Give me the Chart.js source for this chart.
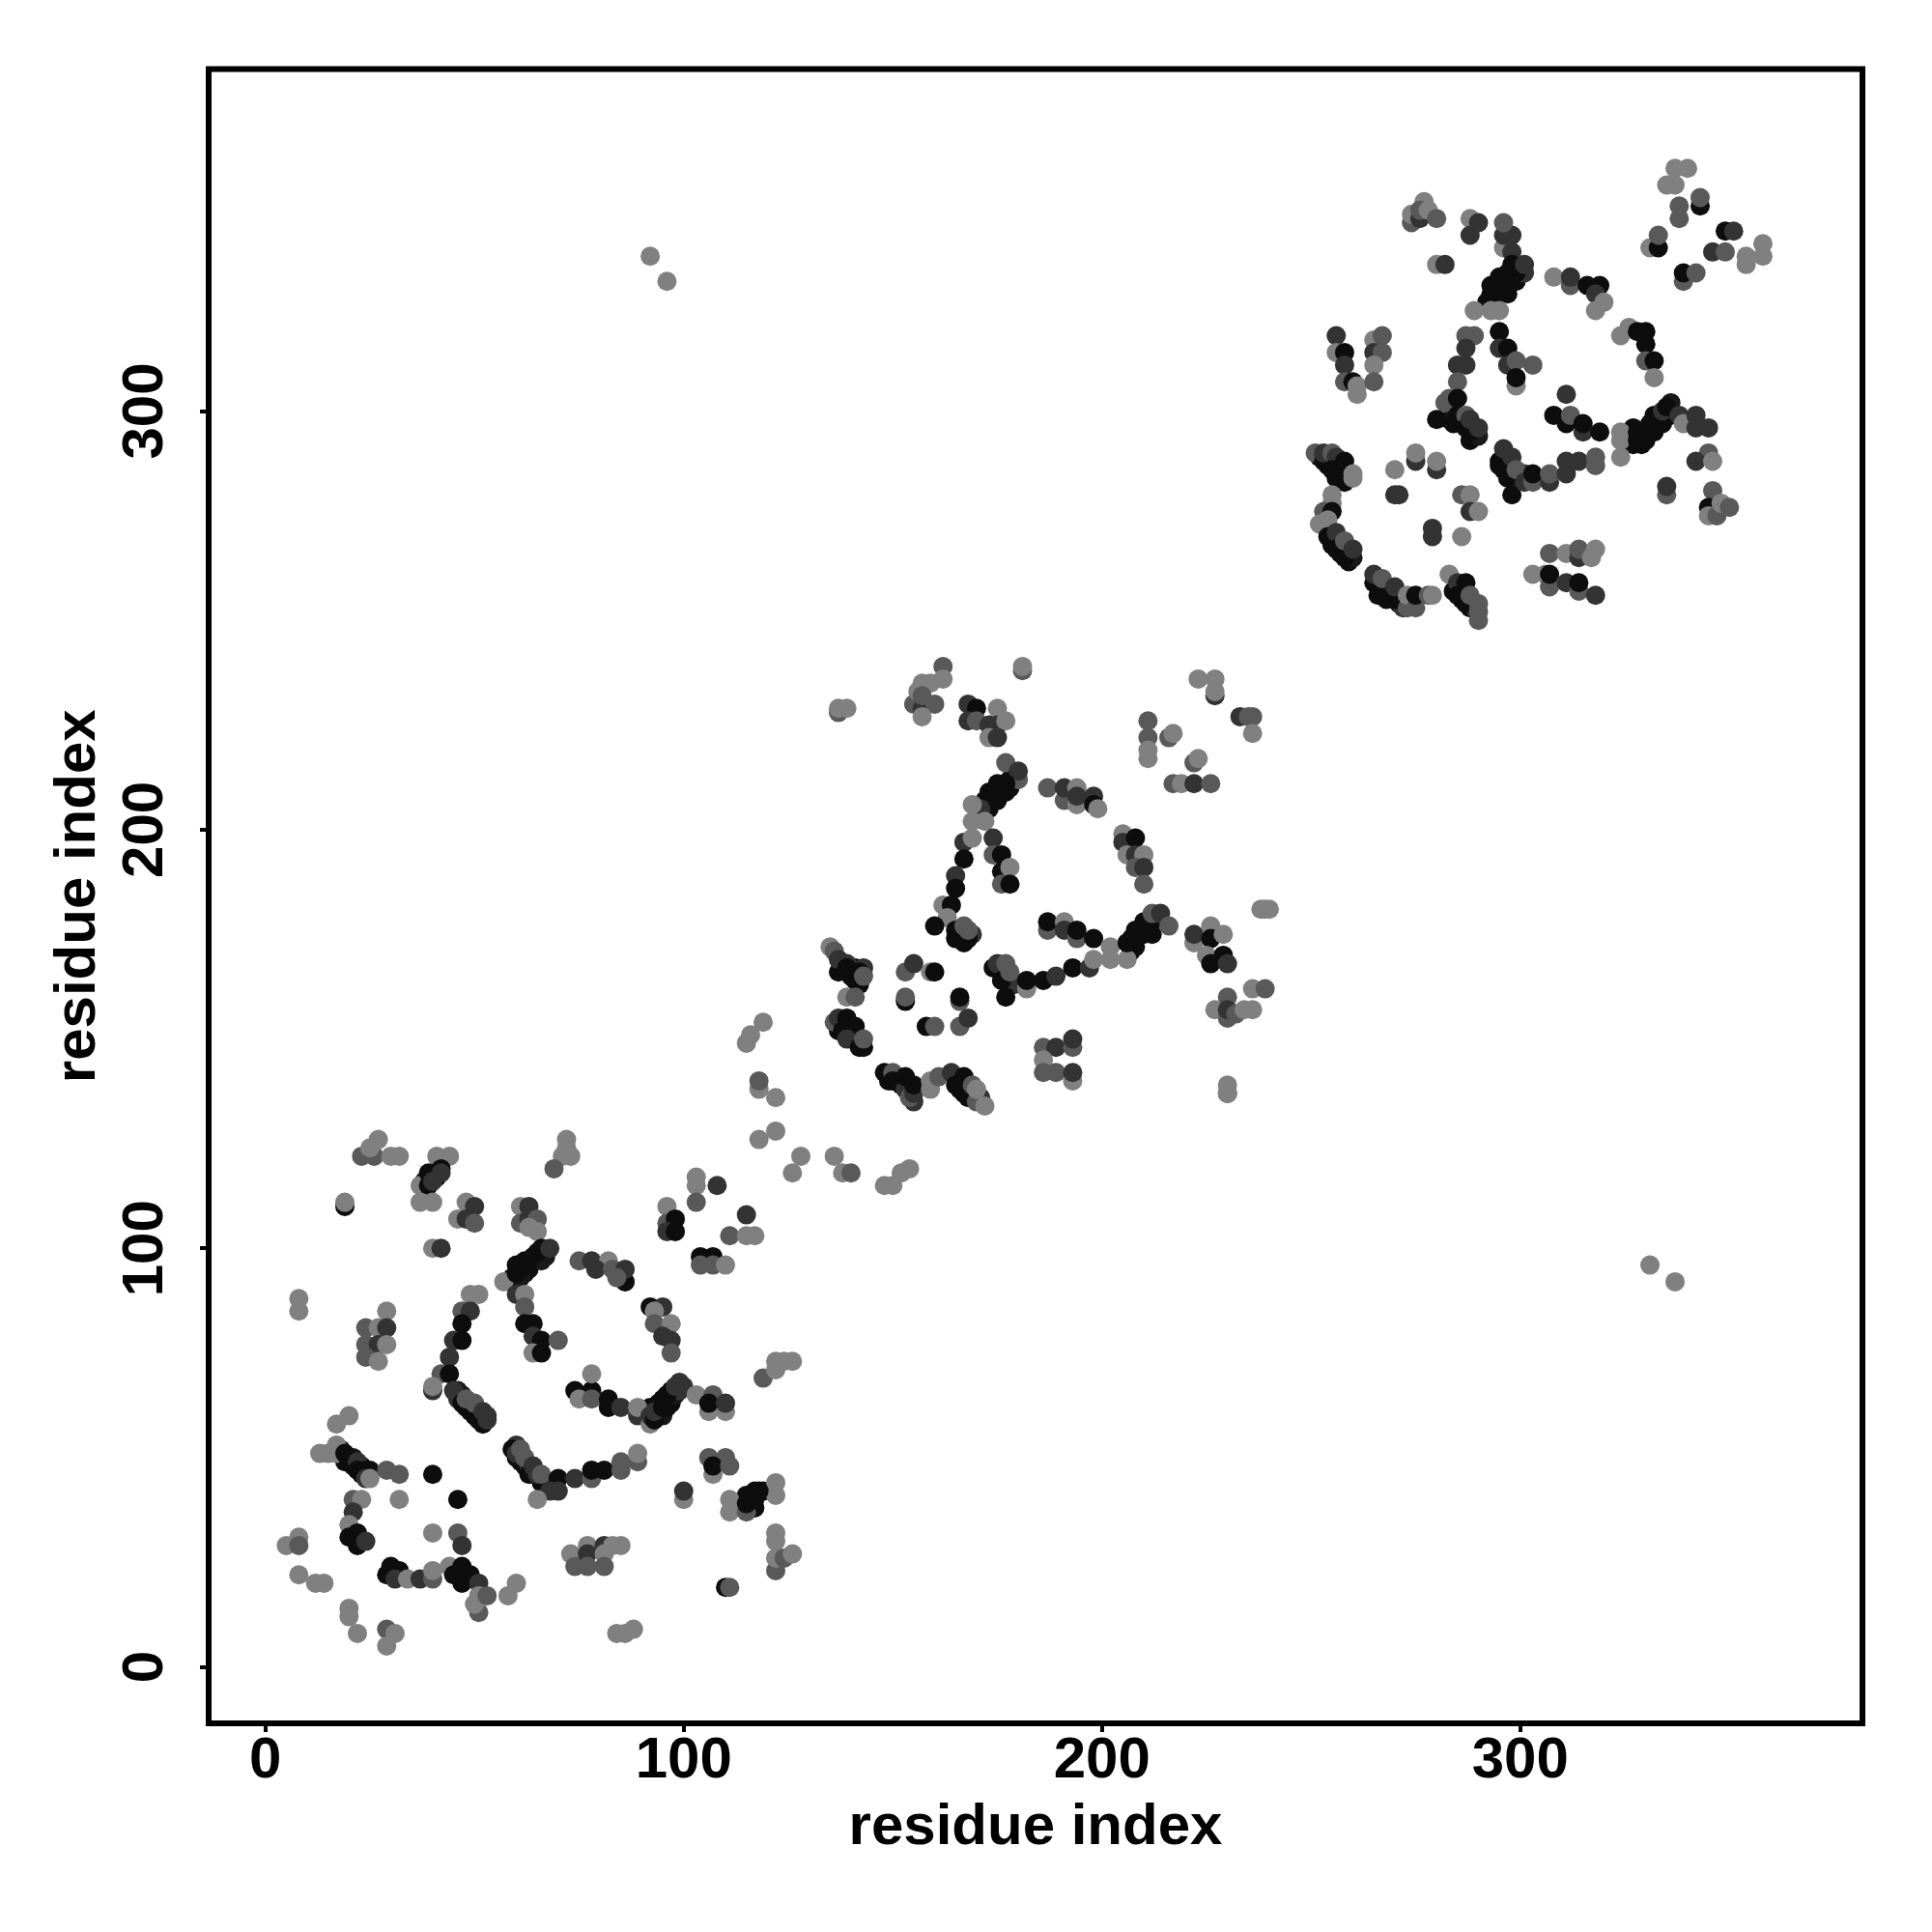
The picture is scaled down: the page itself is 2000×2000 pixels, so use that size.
<!DOCTYPE html>
<html>
<head>
<meta charset="utf-8">
<title>residue contacts</title>
<script src="https://cdn.jsdelivr.net/npm/chart.js@4"></script>
<style>
body { margin: 0; background: #fff; }
canvas { display: block; }
</style>
</head>
<body>
<canvas id="contactChart" width="2000" height="2000"></canvas>
<script>
// contacts: [residue i, residue j, score]
// points hidden under the thick arcs, drawn first so the others sit on top
const denseArcs = [
[59,93,.95],[60,96,.95],[62,94,.95],[63,95,.95],[64,98,.95],[66,97,.9],[67,98,.9],[61,93,.9],
[46,66,.9],[47,65,.9],[48,62,.95],[49,63,.8],[50,60,.95],[51,61,.8],[52,58,.95],[53,60,.8],
[60,53,.8],[60,50,.95],[61,49,.95],[62,48,.95],[63,48,.8],[64,46,.95],[66,44,.95],
[91,61,.9],[92,62,.95],[94,60,.95],[94,63,.95],[95,60,.9],[96,62,.95],[97,63,.95],[97,66,.95],[98,65,.9],[99,66,.8],[100,67,.8],
[18,52,.9],[19,49,.95],[21,48,.95],[21,50,.9],[23,46,.95],[23,48,.95],[25,47,.95],
[38,116,.95],[41,117,.95],[40,118,.95],[115,41,.95],[116,38,.95],[117,38,.95],[119,42,.95],[117,42,.95],
[171,204,.95],[173,205,.95],[173,209,.95],[175,207,.95],[175,209,.95],[177,209,.95],[178,210,.95],[178,212,.95],[172,205,.95],
[207,171,.95],[207,174,.95],[208,172,.95],[209,175,.95],[210,175,.95],[210,178,.95],[212,178,.95],[212,175,.95],
[137,166,.95],[138,168,.95],[140,165,.95],[141,167,.95],[143,167,.8],[142,163,.95],
[137,152,.95],[138,154,.95],[140,152,.95],[140,150,.95],[141,151,.8],[142,150,.95],[143,148,.95],
[149,140,.95],[151,141,.95],[152,139,.95],[154,138,.95],[155,135,.8],
[165,141,.95],[166,138,.95],[168,136,.95],[168,139,.95],[170,137,.8],[171,136,.8],
[165,174,.95],[167,173,.95],[169,175,.8],[176,166,.95],[178,163,.8],[179,163,.8],
[292,326,.95],[294,328,.95],[295,328,.95],[296,329,.95],[297,328,.95],[298,331,.95],[299,331,.95],[300,333,.9],[301,333,.8],[293,326,.95],
[327,296,.95],[327,292,.95],[329,292,.95],[330,293,.95],[331,295,.95],[332,295,.95],[333,297,.95],[334,297,.95],[336,299,.95],[336,302,.9],
[252,289,.95],[254,287,.95],[256,287,.95],[256,284,.95],[258,283,.95],[259,285,.8],
[254,272,.95],[255,268,.95],[257,266,.95],[258,267,.95],[259,264,.95],[260,265,.9],
[266,256,.95],[268,255,.95],[269,256,.95],[271,254,.9],[272,253,.8],
[284,257,.95],[286,255,.95],[287,256,.95],[288,253,.95],[289,253,.8],[290,250,.65],
[283,298,.9],[284,297,.95],[286,297,.95],[288,293,.95],[289,294,.95],[290,294,.9],
[295,287,.95],[296,289,.95],[297,287,.95],[297,284,.95],[300,284,.95],[301,285,.8],[302,284,.95]
];

const domainOne = [
[23,122,.65],[26,122,.65],[27,126,.5],[25,124,.5],[30,122,.5],[32,122,.5],[41,122,.5],[44,122,.5],
[37,115,.5],[39,118,.95],[39,115,.95],[42,119,.95],[40,116,.8],[42,118,.8],[37,111,.5],[40,111,.5],
[19,110,.95],[19,111,.5],[48,111,.5],[50,110,.8],[46,107,.5],[48,107,.8],[50,106,.65],[40,100,.5],[42,100,.8],
[61,110,.5],[63,110,.8],[61,106,.65],[63,107,.8],[65,107,.65],[63,105,.5],[65,104,.5],
[57,92,.5],[60,94,.95],[61,95,.95],[62,97,.95],[63,97,.95],[65,99,.95],[66,100,.95],[68,100,.8],
[60,89,.8],[62,89,.5],[62,86,.65],[62,82,.95],[64,82,.95],[64,79,.8],[66,78,.95],[64,75,.5],[66,75,.95],[70,78,.65],
[75,97,.65],[78,97,.8],[82,97,.5],[79,95,.8],[83,95,.65],[86,92,.95],[86,95,.8],[84,93,.65],
[92,86,.95],[95,86,.8],[93,85,.5],[93,82,.65],[97,82,.5],[95,79,.8],[97,78,.8],[97,75,.65],
[103,117,.5],[103,115,.5],[108,115,.8],[103,111,.65],[96,110,.5],[96,106,.65],[98,107,.95],[96,104,.8],[98,104,.95],
[115,108,.8],[111,103,.65],[115,103,.5],[117,103,.5],[104,98,.95],[107,98,.95],[104,96,.65],[107,96,.65],[110,96,.5],
[72,126,.5],[72,124,.5],[73,122,.5],[71,122,.5],[69,119,.65],[8,88,.5],[8,85,.5],
[24,81,.65],[24,77,.65],[27,81,.5],[29,85,.5],[29,81,.8],[27,77,.8],[29,77,.5],[24,74,.65],[27,73,.5],
[49,89,.5],[51,89,.5],[47,85,.65],[49,85,.8],[47,82,.95],[45,78,.8],[47,78,.95],[44,74,.8],[42,70,.65],[44,70,.95],
[40,66,.8],[40,67,.5],[45,66,.8],[46,64,.8],[47,63,.95],[49,61,.95],[51,59,.95],[48,64,.65],[50,63,.65],[52,61,.8],[53,59,.8],
[59,52,.95],[60,51,.8],[61,52,.65],[62,50,.65],[63,46,.95],[64,48,.8],[65,46,.8],[66,46,.65],[70,45,.95],[70,42,.8],[68,42,.8],[65,40,.5],
[74,45,.8],[78,45,.65],[78,47,.95],[81,47,.95],[85,47,.65],[85,49,.65],[89,49,.65],[89,51,.5],
[74,66,.95],[78,66,.95],[75,64,.5],[78,64,.65],[82,64,.95],[82,62,.95],[85,62,.8],[89,60,.8],[89,62,.5],[92,58,.5],[92,60,.8],[93,59,.95],
[93,61,.8],[95,62,.95],[95,64,.95],[96,65,.95],[98,67,.8],[99,68,.8],[103,65,.5],[106,61,.5],[110,61,.5],[107,65,.65],[106,63,.95],[110,63,.8],
[78,70,.5],[119,69,.65],[122,71,.5],[122,73,.5],[124,73,.5],[126,73,.5],
[17,58,.5],[20,60,.5],[13,51,.5],[15,51,.5],[17,53,.5],[17,51,.5],[19,51,.95],[20,49,.95],[22,49,.8],[22,47,.95],[24,47,.95],[24,45,.8],[25,45,.5],
[29,47,.65],[32,46,.65],[40,46,.95],[46,40,.95],[32,40,.5],[21,40,.65],[23,40,.5],[21,37,.8],[20,34,.5],[20,31,.95],[22,32,.95],[22,29,.95],[24,30,.8],
[5,29,.5],[8,31,.5],[8,29,.65],[8,22,.5],[12,20,.5],[14,20,.5],[20,12,.5],[20,14,.5],[22,8,.5],[29,9,.65],[31,8,.5],[29,5,.5],
[40,32,.5],[46,32,.65],[47,29,.8],[29,22,.95],[30,24,.95],[32,23,.95],[31,21,.8],[34,21,.5],[37,21,.8],[40,21,.65],[40,23,.5],[44,24,.5],
[45,22,.95],[47,24,.95],[47,20,.95],[49,22,.95],[51,20,.8],[51,13,.65],[50,15,.5],[51,17,.5],[53,17,.65],[58,17,.5],[60,20,.5],
[73,27,.5],[74,24,.65],[77,29,.5],[77,27,.8],[77,24,.65],[81,29,.8],[81,27,.5],[81,24,.65],[83,29,.5],[85,29,.5],[84,8,.5],[86,8,.5],[88,9,.5],
[100,40,.5],[100,42,.8],[106,50,.65],[110,50,.65],[107,46,.5],[107,48,.95],[111,48,.65],
[122,44,.5],[122,41,.5],[111,40,.5],[111,37,.5],[115,37,.65],[115,39,.95],[117,40,.95],[118,42,.95],
[122,32,.5],[122,30,.5],[122,23,.65],[122,26,.5],[124,26,.65],[126,27,.5],[110,19,.95],[111,19,.65]
];

const domainTwo = [
[137,228,.65],[137,229,.5],[139,229,.5],[162,239,.65],[162,236,.5],[155,230,.65],[157,229,.8],[160,230,.65],[157,227,.5],
[157,235,.5],[156,233,.5],[159,235,.5],[157,232,.65],[181,238,.65],[181,239,.5],
[168,230,.8],[170,229,.95],[168,226,.8],[170,226,.65],[173,225,.8],[175,229,.5],[175,225,.8],[177,226,.5],[173,222,.5],[175,222,.8],
[223,236,.5],[227,232,.8],[227,233,.5],[227,236,.5],[233,227,.8],[235,227,.65],[236,227,.65],[236,223,.5],
[211,226,.65],[211,222,.65],[211,219,.5],[211,217,.5],[216,222,.65],[217,223,.5],[222,216,.65],[223,217,.5],
[217,211,.65],[219,211,.5],[222,211,.8],[226,211,.65],
[177,216,.65],[180,212,.65],[180,214,.8],[177,211,.95],[175,211,.95],[176,209,.95],[174,208,.95],[172,207,.95],[171,205,.8],[169,206,.5],
[169,202,.5],[172,202,.5],[174,198,.8],[167,197,.8],[169,198,.5],[167,193,.95],[174,194,.65],[176,194,.95],[176,190,.95],[178,191,.5],[176,187,.65],[178,187,.95],
[165,189,.8],[165,186,.95],[162,182,.5],[164,182,.95],[163,179,.5],[160,177,.95],[165,176,.95],[166,176,.95],[168,174,.95],[167,177,.65],[168,176,.65],
[187,210,.65],[191,207,.65],[191,210,.8],[194,210,.5],[194,206,.5],[194,208,.8],[198,208,.8],[198,206,.95],[199,205,.5],
[205,199,.5],[205,197,.8],[208,198,.95],[206,194,.5],[208,194,.8],[210,194,.5],[208,191,.65],[210,191,.8],[210,187,.65],
[187,176,.65],[187,178,.95],[191,178,.5],[191,176,.8],[194,174,.65],[194,176,.95],[198,174,.95],
[174,167,.95],[175,168,.8],[176,164,.95],[177,168,.65],[178,166,.65],[177,160,.95],[182,162,.5],[182,164,.95],[186,164,.95],[189,165,.8],[193,167,.95],[197,167,.8],[198,169,.5],
[202,172,.5],[202,169,.5],[206,169,.5],[206,173,.95],[208,174,.95],[208,176,.95],[210,177,.95],[211,176,.95],[212,180,.65],[214,180,.8],[216,177,.65],
[222,173,.5],[222,175,.8],[226,177,.5],[226,174,.95],[229,175,.5],[225,170,.5],[229,170,.95],[226,168,.95],[230,168,.8],
[238,181,.5],[239,181,.5],[240,181,.5],[236,162,.5],[239,162,.65],[230,160,.65],[227,157,.5],[230,155,.65],[230,157,.8],[232,156,.65],[234,157,.5],[236,157,.5],
[153,166,.65],[155,168,.8],[159,166,.5],[160,166,.95],[153,159,.95],[153,160,.65],[166,159,.65],[166,160,.95],[158,153,.95],[160,153,.65],[166,153,.65],[168,155,.8],
[135,172,.5],[136,171,.65],[137,169,.8],[139,168,.8],[139,167,.95],[141,164,.95],[142,166,.95],[143,165,.65],[139,160,.5],[141,160,.65],
[136,154,.65],[137,155,.8],[139,155,.95],[138,152,.95],[141,153,.95],[139,150,.8],[142,148,.95],[143,150,.65],
[148,142,.95],[150,142,.65],[150,140,.95],[153,138,.8],[153,141,.95],[154,136,.65],[155,137,.8],[155,139,.95],[159,138,.5],[159,140,.5],[161,141,.65],
[164,142,.8],[165,139,.95],[167,141,.95],[167,137,.95],[169,139,.65],[170,135,.65],[170,138,.5],[172,134,.5],
[186,148,.65],[189,148,.8],[193,148,.65],[193,150,.8],[186,145,.5],[186,142,.65],[189,142,.65],[193,140,.5],[193,142,.8],[230,137,.65],[230,137,.5],[230,139,.5]
];

const domainThree = [
[337,358,.5],[340,358,.5],[335,354,.5],[337,354,.5],[343,349,.95],[343,351,.65],[338,349,.65],[338,346,.65],[331,339,.5],[333,339,.95],[333,342,.65],
[349,343,.95],[351,343,.8],[346,338,.8],[349,338,.65],[354,337,.5],[354,335,.5],[358,340,.5],[358,337,.5],[339,331,.65],[339,333,.95],[342,333,.65],
[277,350,.5],[274,345,.65],[274,347,.5],[276,346,.8],[276,348,.65],[278,348,.5],[280,346,.65],[288,346,.5],[288,342,.8],[290,345,.8],
[296,339,.5],[296,342,.8],[298,342,.8],[296,345,.65],[298,338,.8],[280,335,.5],[282,335,.8],
[293,328,.95],[293,330,.95],[295,331,.95],[295,332,.95],[297,330,.95],[297,333,.95],[298,335,.95],[299,333,.95],[299,334,.95],[301,335,.8],
[289,324,.5],[293,324,.5],[295,324,.5],[308,332,.5],[312,330,.65],[312,332,.8],[316,330,.95],[319,330,.95],[318,328,.8],[318,324,.5],[320,326,.5],
[324,318,.5],[326,320,.5],[328,319,.95],[330,319,.95],[330,316,.95],[330,312,.65],[332,312,.95],[332,308,.5],
[256,318,.8],[256,314,.5],[258,314,.95],[258,311,.8],[258,307,.65],[260,307,.95],[261,304,.5],[261,306,.5],
[265,317,.5],[267,318,.65],[265,314,.8],[267,314,.65],[265,311,.5],[265,307,.65],
[287,318,.65],[289,318,.65],[287,315,.8],[285,311,.8],[287,311,.8],[285,307,.65],[282,302,.65],[283,303,.65],[285,303,.95],[280,298,.95],
[285,299,.95],[287,299,.65],[287,296,.95],[288,295,.95],[288,298,.8],[290,296,.8],
[295,319,.95],[295,315,.8],[297,315,.95],[297,311,.8],[299,312,.65],[303,311,.65],[299,306,.5],[299,308,.95],
[311,304,.8],[308,299,.95],[311,297,.95],[312,299,.65],[315,295,.8],[315,297,.95],[319,295,.95],[324,295,.5],[324,293,.5],[324,289,.5],
[328,293,.95],[328,295,.95],[330,295,.95],[331,297,.95],[332,299,.95],[334,300,.8],[335,301,.95],[338,299,.8],[339,297,.5],[342,299,.8],[342,296,.8],[345,296,.8],
[345,290,.65],[342,288,.8],[346,288,.5],[335,280,.65],[335,282,.8],[346,281,.65],[345,277,.95],[345,275,.5],[347,275,.65],[348,278,.5],[350,277,.65],
[275,288,.8],[275,290,.5],[270,286,.5],[280,286,.8],[280,288,.5],[270,280,.8],[271,280,.8],[286,280,.65],[288,280,.5],[288,276,.8],[290,276,.5],
[279,270,.8],[279,272,.8],[286,270,.5],
[251,290,.65],[253,288,.95],[253,290,.8],[255,290,.65],[256,289,.8],[255,286,.95],[257,285,.95],[258,288,.95],[260,284,.5],[260,285,.5],[255,278,.5],[255,280,.5],
[253,276,.65],[255,276,.95],[252,273,.5],[254,274,.5],[254,270,.95],[256,271,.8],[256,267,.95],[258,265,.95],[258,269,.65],[260,267,.8],
[265,259,.95],[265,261,.8],[267,257,.95],[267,260,.65],[270,255,.95],[270,258,.8],[273,253,.65],[273,256,.5],[275,253,.65],[275,256,.95],[278,256,.65],[279,256,.5],
[283,261,.5],[285,259,.8],[285,256,.95],[287,259,.95],[287,254,.95],[288,256,.65],[290,252,.65],[290,254,.65],
[307,266,.65],[311,266,.5],[314,265,.8],[314,267,.65],[317,265,.5],[318,267,.5],[303,261,.5],[306,261,.5],[307,258,.65],[307,261,.95],[311,259,.8],[314,257,.65],[314,259,.95],[318,256,.8],
[295,288,.95],[296,291,.8],[296,286,.95],[298,280,.95],[298,289,.8],[299,286,.65],[301,283,.8],[303,283,.65],[303,285,.95],
[307,283,.8],[307,285,.65],[311,285,.8],[311,288,.8],[314,288,.8],[318,287,.65],[318,289,.65]
];

// the few points between and far from the three groups
const linkers = [
[115,149,.5],[116,151,.5],[119,154,.5],[118,138,.5],[118,140,.65],[122,136,.5],[118,126,.5],[122,128,.5],[126,118,.5],[128,122,.5],
[136,122,.5],[138,118,.5],[140,118,.65],[148,115,.5],[150,115,.5],[152,118,.5],[154,119,.5],
[92,337,.5],[96,331,.5],[331,96,.5],[337,92,.5]
];

const tickValues = [0, 100, 200, 300];
const axisTitle = 'residue index';

function scoreToGrey(score) {
    const g = Math.round((1 - score) * 255);
    return `rgb(${g},${g},${g})`;
}

const points = [...denseArcs, ...domainOne, ...linkers, ...domainTwo, ...domainThree];

// R style box round the plot area
const boxPlugin = {
    id: 'box',
    afterDatasetsDraw(chart) {
        const { ctx, chartArea } = chart;
        ctx.save();
        ctx.strokeStyle = '#000';
        ctx.lineWidth = 6;
        ctx.strokeRect(chartArea.left, chartArea.top, chartArea.right - chartArea.left, chartArea.bottom - chartArea.top);
        ctx.restore();
    }
};

function fixedTicks(axis) {
    axis.ticks = tickValues.map(v => ({ value: v }));
}

const tickFont = { family: 'Liberation Sans', size: 60, weight: 'bold' };

new Chart(document.getElementById('contactChart').getContext('2d'), {
    type: 'scatter',
    data: {
        datasets: [{
            data: points.map(p => ({ x: p[0], y: p[1] })),
            backgroundColor: points.map(p => scoreToGrey(p[2])),
            borderWidth: 0,
            pointRadius: 10,
            pointHoverRadius: 10
        }]
    },
    plugins: [boxPlugin],
    options: {
        responsive: false,
        animation: false,
        layout: { padding: { top: 71.5, right: 72, bottom: 0, left: 0 } },
        plugins: { legend: { display: false }, tooltip: { enabled: false } },
        scales: {
            x: {
                type: 'linear',
                min: -13.56,
                max: 381.8,
                afterBuildTicks: fixedTicks,
                afterFit: axis => { axis.height = 216; },
                grid: { drawOnChartArea: false, color: '#000', lineWidth: 4, tickLength: 9 },
                border: { display: false },
                ticks: { font: tickFont, color: '#000', padding: -6, maxRotation: 0, autoSkip: false, includeBounds: false },
                title: { display: true, text: axisTitle, color: '#000', font: tickFont, padding: { top: 0, bottom: 72 } }
            },
            y: {
                type: 'linear',
                min: -13.48,
                max: 381.7,
                afterBuildTicks: fixedTicks,
                afterFit: axis => { axis.width = 216; },
                grid: { drawOnChartArea: false, color: '#000', lineWidth: 4, tickLength: 9 },
                border: { display: false },
                ticks: { font: tickFont, color: '#000', padding: 5, minRotation: 90, maxRotation: 90, crossAlign: 'center', autoSkip: false, includeBounds: false },
                title: { display: true, text: axisTitle, color: '#000', font: tickFont, padding: { top: 45, bottom: 0 } }
            }
        }
    }
});
</script>
</body>
</html>
